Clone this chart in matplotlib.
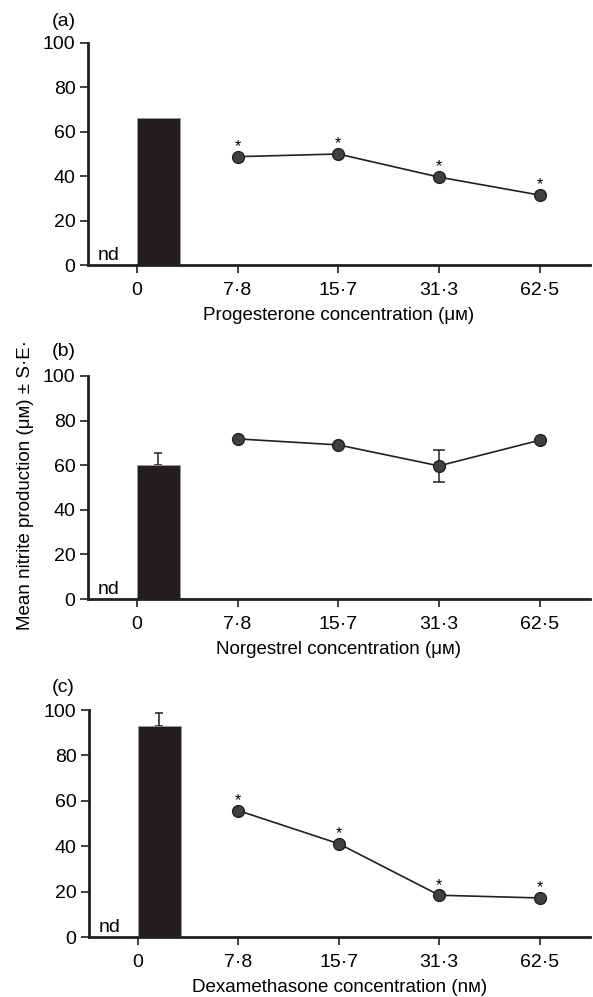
import numpy as np
import matplotlib.pyplot as plt

plt.rcParams['font.family'] = ['Liberation Sans', 'DejaVu Sans']

conc_labels = ['0', '7·8', '15·7', '31·3', '62·5']

# (a) progesterone
prog_ctrl = 66.0
prog_ctrl_se = 0.0
prog_vals = [48.8, 50.0, 39.6, 31.5]
prog_se = [0, 0, 0, 0]
prog_sig = [True, True, True, True]

# (b) norgestrel
norg_ctrl = 60.1
norg_ctrl_se = 5.3
norg_vals = [71.8, 69.1, 59.7, 71.2]
norg_se = [0, 0, 7.1, 0]
norg_sig = [False, False, False, False]

# (c) dexamethasone
dex_ctrl = 92.9
dex_ctrl_se = 5.7
dex_vals = [55.7, 41.1, 18.4, 17.2]
dex_se = [0, 0, 0, 0]
dex_sig = [True, True, True, True]

xlabels = ['Progesterone concentration (μм)',
           'Norgestrel concentration (μм)',
           'Dexamethasone concentration (nм)']
panel_tags = ['(a)', '(b)', '(c)']

W, H = 593, 997
fig = plt.figure(figsize=(W / 100, H / 100), dpi=100)

# axes boxes in pixels: left, right, top(y=100), bottom(y=0)
boxes = [(88, 590, 43, 265), (88, 590, 376, 599), (89, 590, 710, 937)]
tag_y = [21, 351, 687]

ink = '#231f20'
fs_tick = 14
fs_lab = 13.5


def draw_panel(ax, ctrl, ctrl_se, vals, se, sig, xlabel):
    x = np.arange(len(conc_labels))
    ax.bar(x[0], ctrl, width=0.43, align='edge', color=ink,
           edgecolor='#9a9a9a', linewidth=0.6, zorder=2)
    if ctrl_se > 0:
        ax.errorbar(x[0] + 0.215, ctrl, yerr=[[0], [ctrl_se]], fmt='none',
                    ecolor=ink, elinewidth=1.1, capsize=3, capthick=1.1, zorder=1)
    ax.text(-0.39, 0.5, 'nd', ha='left', va='bottom', fontsize=fs_tick)

    px = x[1:]
    ax.plot(px, vals, color=ink, lw=1.2, zorder=3)
    se_arr = np.array(se, dtype=float)
    if se_arr.any():
        ax.errorbar(px, vals, yerr=se_arr, fmt='none', ecolor=ink,
                    elinewidth=1.1, capsize=4, capthick=1.1, zorder=2)
    ax.plot(px, vals, 'o', ms=8.5, mfc='#404040', mec=ink, mew=1.0, zorder=4)
    for xi, yi, s in zip(px, vals, sig):
        if s:
            ax.annotate('*', (xi, yi), xytext=(0, 4), textcoords='offset points',
                        ha='center', va='baseline', fontsize=11.5)

    ax.set_xlim(-0.485, 4.5)
    ax.set_ylim(0, 100)
    ax.set_xticks(x)
    ax.set_xticklabels(conc_labels)
    ax.set_yticks(np.arange(0, 101, 20))
    for side in ['top', 'right']:
        ax.spines[side].set_visible(False)
    for side in ['left', 'bottom']:
        ax.spines[side].set_linewidth(2)
        ax.spines[side].set_color(ink)
    ax.tick_params(axis='both', labelsize=fs_tick, width=1.2, length=6,
                   color=ink, pad=3)
    ax.tick_params(axis='x', pad=6)
    ax.set_xlabel(xlabel, fontsize=fs_lab, labelpad=6)


datasets = [
    (prog_ctrl, prog_ctrl_se, prog_vals, prog_se, prog_sig),
    (norg_ctrl, norg_ctrl_se, norg_vals, norg_se, norg_sig),
    (dex_ctrl, dex_ctrl_se, dex_vals, dex_se, dex_sig),
]

for i, (box, data) in enumerate(zip(boxes, datasets)):
    l, r, t, b = box
    ax = fig.add_axes([l / W, 1 - b / H, (r - l) / W, (b - t) / H])
    ax.patch.set_alpha(0)
    draw_panel(ax, *data, xlabels[i])
    fig.text(52 / W, 1 - tag_y[i] / H, panel_tags[i], ha='left', va='center',
             fontsize=fs_tick)

fig.text(26 / W, 1 - 485 / H, 'Mean nitrite production (μм) ± S·E·',
         rotation=90, ha='center', va='center', fontsize=fs_lab)

fig.savefig('out.png', dpi=100)
